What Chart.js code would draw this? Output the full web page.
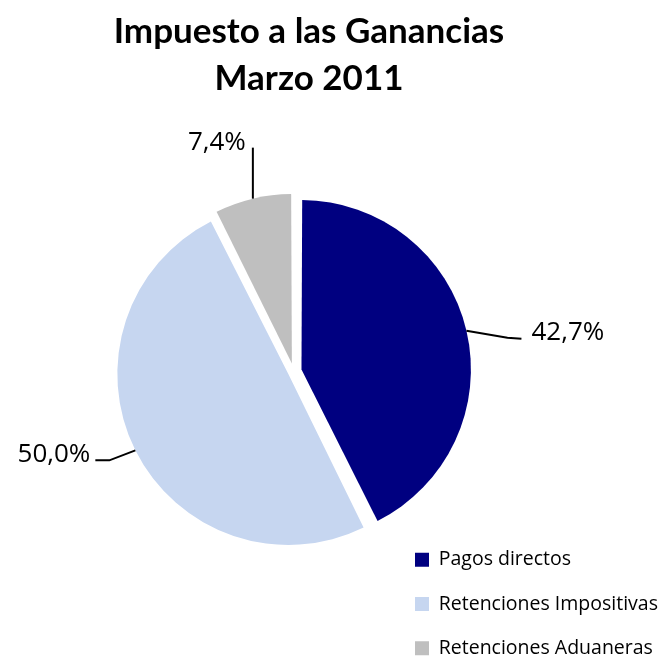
<!DOCTYPE html>
<html lang="es">
<head>
<meta charset="utf-8">
<title>Impuesto a las Ganancias - Marzo 2011</title>
<script src="https://cdn.jsdelivr.net/npm/chart.js@4.4.1/dist/chart.umd.min.js"></script>
<style>
  html, body { margin: 0; padding: 0; background: #fff; }
  #wrap { width: 664px; height: 661px; }
</style>
</head>
<body>
<div id="wrap"><canvas id="chart" width="664" height="661"></canvas></div>
<script>
// Datos: participación en la recaudación (%)
const categories = ['Pagos directos', 'Retenciones Impositivas', 'Retenciones Aduaneras'];
const shares = [42.7, 50.0, 7.4];
const sliceColors = ['#000080', '#C6D6F0', '#BFBFBF'];
const titleLines = ['Impuesto a las Ganancias', 'Marzo 2011'];

// Explosion per slice (Chart.js moves a slice by offset / 4)
const sliceOffsets = [32, 24, 32];

// Where the blocks sit on the page
const TITLE_CENTER_X = 309;
const LEGEND_X = 415;
const LEGEND_Y = 550;
const LEGEND_PAD = 24.8;

// Leader lines, relative to the point where each line leaves its slice
const leaderOffsets = [
    { elbow: [41, 7], end: [55, 8], text: [65, 9], align: 'left' },
    { elbow: [-26, 10], end: [-40, 10], text: [-45, 12], align: 'right' },
    { elbow: [0, -51], end: [0, -51], text: [-7, -49], align: 'right' }
];

function formatShare(v) {
    return v.toFixed(1).replace('.', ',') + '%';
}

// Percent labels with leader lines
const leaderLabels = {
    id: 'leaderLabels',
    afterDatasetsDraw(chart) {
        const ctx = chart.ctx;
        const arcs = chart.getDatasetMeta(0).data;
        ctx.save();
        ctx.strokeStyle = '#000';
        ctx.lineWidth = 2;
        ctx.fillStyle = '#000';
        ctx.font = '26px "Open Sans"';
        ctx.textBaseline = 'alphabetic';
        arcs.forEach((arc, i) => {
            const p = arc.getProps(['x', 'y', 'startAngle', 'endAngle', 'outerRadius', 'circumference'], true);
            const mid = (p.startAngle + p.endAngle) / 2;
            const shift = (arc.options.offset || 0) / 4;
            const grow = shift * (1 - Math.sin(Math.min(Math.PI, p.circumference)));
            const r = p.outerRadius + grow + shift;
            const sx = p.x + Math.cos(mid) * r;
            const sy = p.y + Math.sin(mid) * r;
            const o = leaderOffsets[i];
            ctx.beginPath();
            ctx.moveTo(sx, sy);
            ctx.lineTo(sx + o.elbow[0], sy + o.elbow[1]);
            ctx.lineTo(sx + o.end[0], sy + o.end[1]);
            ctx.stroke();
            ctx.textAlign = o.align;
            ctx.fillText(formatShare(shares[i]), sx + o.text[0], sy + o.text[1]);
        });
        ctx.restore();
    }
};

// Move title and legend to where the original has them
const placeBlocks = {
    id: 'placeBlocks',
    afterLayout(chart) {
        const t = chart.titleBlock;
        t.left = 0;
        t.right = TITLE_CENTER_X * 2;
        const lg = chart.legend;
        lg.left = LEGEND_X - LEGEND_PAD;
        lg.right = chart.width;
        lg.top = LEGEND_Y - LEGEND_PAD;
        lg.bottom = chart.height + 200;
    }
};

new Chart(document.getElementById('chart'), {
    type: 'pie',
    data: {
        labels: categories,
        datasets: [{
            data: shares,
            backgroundColor: sliceColors,
            borderWidth: 0,
            offset: sliceOffsets,
            hoverOffset: 0,
            radius: 165
        }]
    },
    options: {
        responsive: false,
        animation: false,
        events: [],
        layout: {
            padding: { left: 113.7, right: 190.3, top: 0, bottom: 109.7 }
        },
        plugins: {
            title: {
                display: true,
                text: titleLines,
                color: '#000',
                font: { family: 'Lato', weight: 'bold', size: 35, lineHeight: '47px' },
                padding: { top: 8, bottom: 89.3 }
            },
            legend: {
                position: 'chartArea',
                align: 'start',
                labels: {
                    color: '#000',
                    font: { family: 'Open Sans', size: 19.5 },
                    boxWidth: 14,
                    boxHeight: 14,
                    padding: LEGEND_PAD
                }
            },
            tooltip: { enabled: false }
        }
    },
    plugins: [placeBlocks, leaderLabels]
});
</script>
</body>
</html>
